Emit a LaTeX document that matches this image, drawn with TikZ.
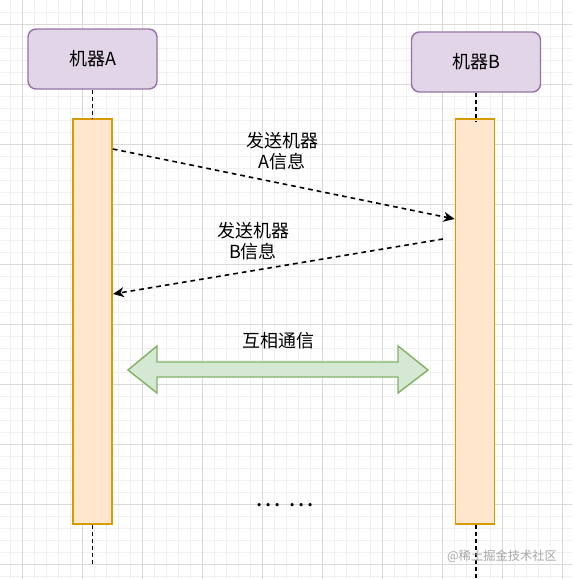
\documentclass[tikz,border=0pt]{standalone}
\usepackage{fontspec}
\newfontfamily\cjk{Noto Sans CJK SC}
\usetikzlibrary{arrows.meta,positioning}
\definecolor{machinefill}{HTML}{E1D5E7}
\definecolor{machineline}{HTML}{9673A6}
\definecolor{barfill}{HTML}{FFE6CC}
\definecolor{barline}{HTML}{D79B00}
\definecolor{linkfill}{HTML}{D5E8D4}
\definecolor{linkline}{HTML}{82B366}
\definecolor{gridminor}{HTML}{F0F0F0}
\definecolor{gridmajor}{HTML}{D9D9D9}
\definecolor{markgray}{HTML}{A6A6A6}
\tikzset{
  machine/.style={draw=machineline,fill=machinefill,rounded corners=6pt,line width=1.1pt,
    minimum width=96.75pt,minimum height=45pt,font=\cjk\fontsize{13.5}{16}\selectfont},
  activebar/.style={draw=barline,fill=barfill,line width=1.1pt,minimum width=29.5pt,minimum height=303.75pt},
  lifeline/.style={line width=1.1pt,dash pattern=on 3pt off 2.3pt},
  message/.style={line width=1.2pt,dash pattern=on 3.5pt off 3pt,-{Stealth[length=8.25pt,width=7.5pt,inset=2.5pt]}},
  msgtext/.style={align=center,font=\cjk\fontsize{13.5}{15.75}\selectfont,inner sep=0pt}
}
\begin{document}
\begin{tikzpicture}[x=0.75pt,y=-0.75pt]
\useasboundingbox (0,0) rectangle (572,579);
\fill[white] (0,0) rectangle (572,579);
% grid
\foreach \i in {-1,...,47} {
  \draw[gridminor,line width=0.75pt] (22.7+12*\i,0) -- (22.7+12*\i,579);
  \draw[gridminor,line width=0.75pt] (0,24+12*\i) -- (572,24+12*\i);
}
\foreach \i in {0,...,9} {
  \draw[gridmajor,line width=0.75pt] (22.7+60*\i,0) -- (22.7+60*\i,579);
  \draw[gridmajor,line width=0.75pt] (0,24+60*\i) -- (572,24+60*\i);
}

\node[machine] (machineA) at (92.5,59) {机器A};
\node[machine] (machineB) at (476,62) {机器B};
\node[activebar] (barA) at (92.5,321.5) {};
\node[activebar] (barB) at (475,321.5) {};
\coordinate (endA) at (92.5,564);
\coordinate (endB) at (476,579);

\draw[lifeline] (machineA) -- (barA);
\draw[lifeline] (machineB.south) -- (476,122);
\draw[lifeline] (barA.south) -- (endA);
\draw[lifeline] (barB.south -| endB) -- (endB);

\coordinate (sendAfrom) at (barA.east |- 0,149);
\coordinate (sendAto) at (barB.west |- 0,219);
\coordinate (sendBfrom) at (443,239);
\coordinate (sendBto) at (113,294);
\draw[message] (sendAfrom) -- (sendAto);
\draw[message] (sendBfrom) -- (sendBto);
\node[msgtext] (sendA) at (282,151) {发送机器\\A信息};
\node[msgtext] (sendB) at (253,241) {发送机器\\B信息};

% double arrow
\draw[linkline,fill=linkfill,line width=1.1pt,line join=miter] (128,370) -- (157,346) -- (157,362) -- (398,362) -- (398,346) -- (428,370)
  -- (398,393) -- (398,377) -- (157,377) -- (157,393) -- cycle;
\node[msgtext] (talk) at (278,341) {互相通信};
\node[msgtext,font=\cjk\fontsize{18}{20}\selectfont] (more) at (284.5,505.5) {…\hspace{6pt}…};

\node[text=markgray,font=\cjk\fontsize{9.2}{11}\selectfont,inner sep=0pt] (mark) at (502,556) {@稀土掘金技术社区};
\end{tikzpicture}
\end{document}
